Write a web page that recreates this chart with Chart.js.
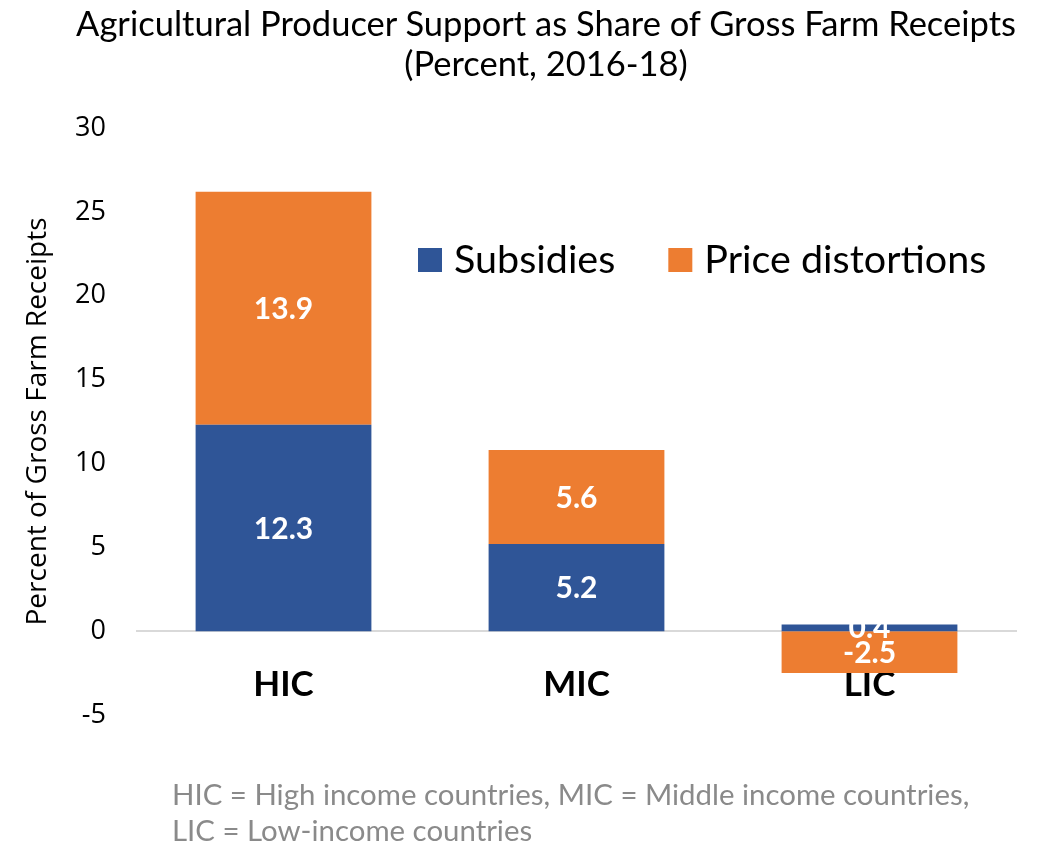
<!DOCTYPE html>
<html>
<head>
<meta charset="utf-8">
<script src="https://cdn.jsdelivr.net/npm/chart.js@4/dist/chart.umd.min.js"></script>
<style>
  body { margin: 0; background: #fff; }
  #wrap { position: relative; width: 1040px; height: 842px; overflow: hidden; }
  #title {
    position: absolute; left: 52px; top: 3px; width: 988px;
    text-align: center; font-family: Lato, sans-serif; font-size: 34.5px;
    line-height: 40px; color: #000;
  }
  #note {
    position: absolute; left: 172px; top: 776px;
    font-family: Lato, sans-serif; font-size: 29.4px; line-height: 36px; color: #8a8a8a;
  }
  canvas { position: absolute; left: 0; top: 0; }
</style>
</head>
<body>
<div id="wrap">
  <canvas id="chart" width="1040" height="842"></canvas>
  <div id="title">Agricultural Producer Support as Share of Gross Farm Receipts<br>(Percent, 2016-18)</div>
  <div id="note">HIC = High income countries, MIC = Middle income countries,<br>LIC = Low-income countries</div>
</div>
<script>
const categories = ['HIC', 'MIC', 'LIC'];
const subsidies = [12.3, 5.2, 0.4];
const priceDistortions = [13.9, 5.6, -2.5];
const seriesNames = ['Subsidies', 'Price distortions'];
const seriesColors = ['#2F5597', '#ED7D31'];
const yMin = -5, yMax = 30, yStep = 5;

// white value labels in the middle of every stacked segment
const segmentLabels = {
  id: 'segmentLabels',
  afterDatasetsDraw(chart) {
    const ctx = chart.ctx;
    ctx.save();
    ctx.font = 'bold 30px Lato';
    ctx.fillStyle = '#fff';
    ctx.textAlign = 'center';
    ctx.textBaseline = 'middle';
    chart.data.datasets.forEach((ds, i) => {
      chart.getDatasetMeta(i).data.forEach((bar, j) => {
        const p = bar.getProps(['x', 'y', 'base'], true);
        ctx.fillText(ds.data[j].toFixed(1), p.x, (p.y + p.base) / 2 + 1);
      });
    });
    ctx.restore();
  }
};

// one-row legend sitting inside the plot area
const legendRow = {
  id: 'legendRow',
  afterDraw(chart) {
    const {ctx, chartArea} = chart;
    const box = 24;
    let x = chartArea.left + 281;
    const y = chartArea.top + 132;
    ctx.save();
    ctx.font = '39.5px Lato';
    ctx.textBaseline = 'middle';
    ctx.textAlign = 'left';
    chart.data.datasets.forEach(ds => {
      ctx.fillStyle = ds.backgroundColor;
      ctx.fillRect(x, y - box / 2, box, box);
      ctx.fillStyle = '#000';
      ctx.fillText(ds.label, x + box + 12, y);
      x += box + 12 + ctx.measureText(ds.label).width + 53;
    });
    ctx.restore();
  }
};

new Chart(document.getElementById('chart'), {
  type: 'bar',
  data: {
    labels: categories,
    datasets: [
      { label: seriesNames[0], data: subsidies, backgroundColor: seriesColors[0] },
      { label: seriesNames[1], data: priceDistortions, backgroundColor: seriesColors[1] }
    ]
  },
  options: {
    responsive: false,
    devicePixelRatio: 1,
    animation: false,
    layout: { padding: { top: 128, right: 24, bottom: 127, left: 0 } },
    datasets: { bar: { barPercentage: 0.6, categoryPercentage: 1.0 } },
    plugins: {
      legend: { display: false },
      title: { display: false },
      tooltip: { enabled: false }
    },
    scales: {
      x: {
        stacked: true,
        position: { y: 0 },
        grid: { display: false, drawTicks: false },
        border: { display: true, color: '#d9d9d9', width: 2 },
        ticks: {
          padding: 33,
          color: '#000',
          font: { family: 'Lato', size: 35, weight: 'bold' }
        }
      },
      y: {
        stacked: true,
        min: yMin,
        max: yMax,
        grid: { display: false, drawTicks: false },
        border: { display: false },
        ticks: {
          stepSize: yStep,
          padding: 31,
          color: '#000',
          font: { family: 'Open Sans', size: 27 }
        },
        title: {
          display: true,
          text: 'Percent of Gross Farm Receipts',
          color: '#000',
          font: { family: 'Open Sans', size: 28 },
          padding: { top: 21, bottom: 0 }
        },
        afterFit(scale) { scale.width = 137; }
      }
    }
  },
  plugins: [segmentLabels, legendRow]
});
</script>
</body>
</html>
